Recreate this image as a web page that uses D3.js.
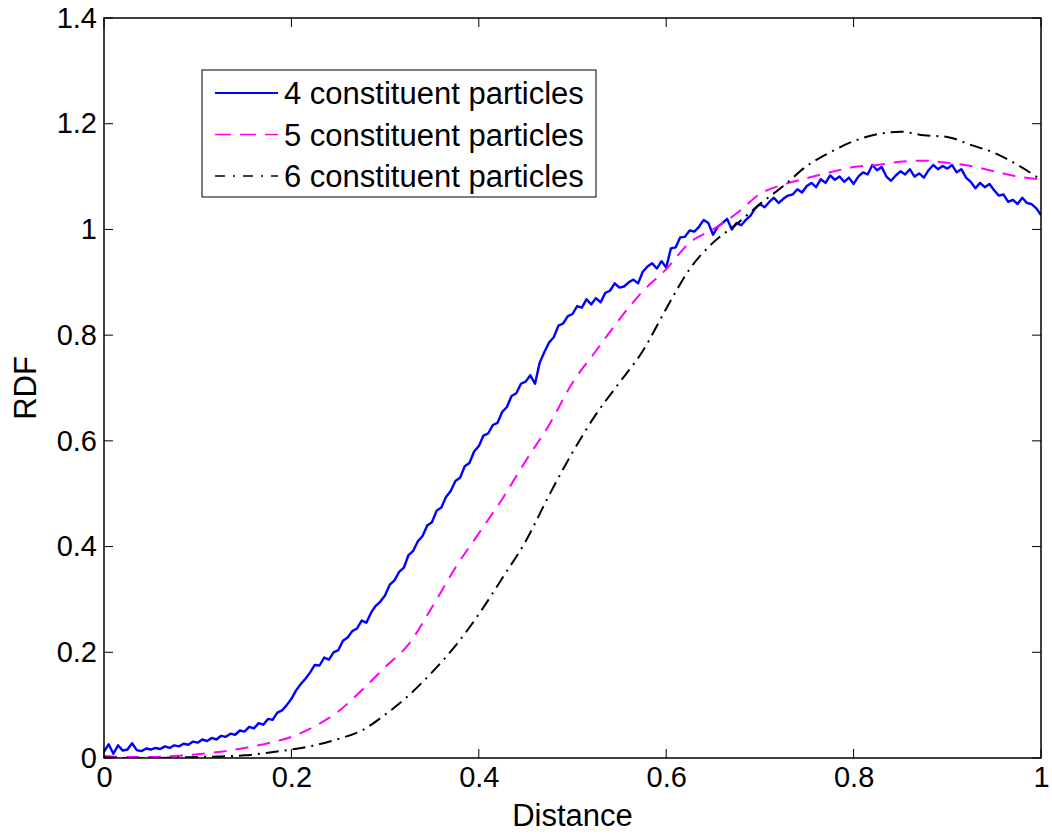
<!DOCTYPE html>
<html><head><meta charset="utf-8">
<script src="https://cdn.jsdelivr.net/npm/d3@7"></script>
<style>body{margin:0;background:#fff}svg{display:block}text{font-family:"Liberation Sans",Arial,sans-serif}</style>
</head><body>
<svg id="c" width="1052" height="837"></svg>
<script>
const seriesNames = ["4 constituent particles","5 constituent particles","6 constituent particles"];
const xTicks = [0,0.2,0.4,0.6,0.8,1];
const yTicks = [0,0.2,0.4,0.6,0.8,1,1.2,1.4];
// 4 particles: step 0.005 from 0 to 1
const rdf4 = [0.012,0.026,0.008,0.024,0.014,0.016,0.028,0.015,0.013,0.018,
0.016,0.019,0.017,0.022,0.019,0.024,0.022,0.027,0.025,0.031,
0.029,0.035,0.032,0.038,0.035,0.042,0.04,0.046,0.044,0.052,
0.05,0.059,0.056,0.066,0.063,0.074,0.072,0.086,0.09,0.1,
0.112,0.128,0.14,0.15,0.162,0.176,0.175,0.19,0.186,0.2,
0.204,0.222,0.228,0.24,0.245,0.26,0.256,0.275,0.288,0.296,
0.308,0.328,0.336,0.352,0.36,0.384,0.392,0.41,0.42,0.44,
0.446,0.468,0.474,0.494,0.505,0.524,0.53,0.552,0.558,0.58,
0.59,0.61,0.614,0.63,0.634,0.655,0.664,0.685,0.69,0.708,
0.712,0.724,0.708,0.748,0.768,0.786,0.796,0.818,0.822,0.836,
0.84,0.855,0.852,0.868,0.858,0.87,0.862,0.88,0.884,0.898,
0.89,0.892,0.9,0.905,0.898,0.92,0.93,0.936,0.926,0.94,
0.928,0.964,0.966,0.985,0.986,0.998,0.996,1.005,1.018,1.012,
0.99,1.005,1.012,1.02,1.0,1.012,1.008,1.018,1.026,1.04,
1.048,1.042,1.052,1.06,1.05,1.058,1.064,1.066,1.076,1.07,
1.082,1.088,1.08,1.095,1.088,1.102,1.094,1.1,1.09,1.098,
1.086,1.1,1.108,1.104,1.122,1.112,1.118,1.1,1.092,1.102,
1.11,1.104,1.114,1.1,1.106,1.098,1.112,1.122,1.114,1.12,
1.115,1.122,1.108,1.114,1.098,1.09,1.078,1.088,1.08,1.086,
1.074,1.064,1.066,1.052,1.056,1.048,1.06,1.05,1.048,1.04,
1.027];
// 5 and 6 particles: step 0.025 from 0 to 1
const rdf5 = [0.004,0.002,0.002,0.004,0.007,0.012,0.019,0.028,0.04,0.06,
0.088,0.128,0.172,0.215,0.285,0.36,0.425,0.49,0.562,0.63,
0.71,0.77,0.83,0.883,0.925,0.975,1.0,1.03,1.067,1.085,
1.097,1.108,1.118,1.122,1.128,1.13,1.126,1.12,1.11,1.1,1.095];
const rdf6 = [0.001,0.0,0.0,0.001,0.002,0.003,0.005,0.01,0.016,0.024,
0.036,0.052,0.082,0.118,0.162,0.212,0.272,0.34,0.41,0.497,
0.578,0.65,0.71,0.77,0.85,0.925,0.975,1.01,1.048,1.082,
1.12,1.146,1.167,1.18,1.185,1.178,1.175,1.16,1.145,1.122,1.094];

const L=104, R=1041, T=18, B=758;
const svg = d3.select("#c");
const x = d3.scaleLinear().domain([0,1]).range([L,R]);
const y = d3.scaleLinear().domain([0,1.4]).range([B,T]);

svg.append("defs").append("clipPath").attr("id","clip")
  .append("rect").attr("x",L).attr("y",T).attr("width",R-L).attr("height",B-T);

const mk = (arr, step) => arr.map((v,i)=>[i*step, v]);
const series = [
  {data: mk(rdf4,0.005), color:"#0000ff", dash:null, w:2.4},
  {data: mk(rdf5,0.025), color:"#ff00ff", dash:"13,9", w:2},
  {data: mk(rdf6,0.025), color:"#000000", dash:"13,6,2,6", w:2}
];
const g = svg.append("g").attr("clip-path","url(#clip)");
series.forEach(s=>{
  g.append("path").attr("d", d3.line().x(d=>x(d[0])).y(d=>y(d[1])).curve(s.dash?d3.curveMonotoneX:d3.curveLinear)(s.data))
    .attr("fill","none").attr("stroke",s.color).attr("stroke-width",s.w)
    .attr("stroke-dasharray",s.dash).attr("stroke-linejoin","round");
});

// axes
const fsT = 29, fs = 31;
const xb = svg.append("g").attr("transform",`translate(0,${B})`)
  .call(d3.axisBottom(x).tickValues(xTicks).tickFormat(d3.format("~g")).tickSize(0).tickPadding(8));
const yl = svg.append("g").attr("transform",`translate(${L},0)`)
  .call(d3.axisLeft(y).tickValues(yTicks).tickFormat(d3.format("~g")).tickSize(0).tickPadding(7));
[xb,yl].forEach(a=>{a.select(".domain").remove(); a.selectAll("text").attr("font-size",fsT).attr("fill","#000").style("font-family","Liberation Sans, Arial, sans-serif");});
// inner ticks on all four sides
const tk = 9;
xTicks.forEach(t=>{
  svg.append("line").attr("x1",x(t)).attr("x2",x(t)).attr("y1",B).attr("y2",B-tk).attr("stroke","#000").attr("stroke-width",1);
  svg.append("line").attr("x1",x(t)).attr("x2",x(t)).attr("y1",T).attr("y2",T+tk).attr("stroke","#000").attr("stroke-width",1);
});
yTicks.forEach(t=>{
  svg.append("line").attr("x1",L).attr("x2",L+tk).attr("y1",y(t)).attr("y2",y(t)).attr("stroke","#000").attr("stroke-width",1);
  svg.append("line").attr("x1",R).attr("x2",R-tk).attr("y1",y(t)).attr("y2",y(t)).attr("stroke","#000").attr("stroke-width",1);
});
svg.append("rect").attr("x",L).attr("y",T).attr("width",R-L).attr("height",B-T)
  .attr("fill","none").attr("stroke","#000").attr("stroke-width",1.5);

svg.append("text").attr("x",(L+R)/2).attr("y",826).attr("text-anchor","middle").attr("font-size",fs).text("Distance");
svg.append("text").attr("transform",`translate(36,${(T+B)/2}) rotate(-90)`).attr("text-anchor","middle").attr("font-size",fs).text("RDF");

// legend
const lg = svg.append("g");
lg.append("rect").attr("x",202).attr("y",70).attr("width",394).attr("height",127).attr("fill","#fff").attr("stroke","#000").attr("stroke-width",1);
series.forEach((s,i)=>{
  const yy = 93 + i*41.5;
  lg.append("line").attr("x1",215).attr("x2",278).attr("y1",yy).attr("y2",yy)
    .attr("stroke",s.color).attr("stroke-width",s.w>2?2:1.5).attr("stroke-dasharray",s.dash ? (i==1?"16,9":"10,8,2,8") : null);
  lg.append("text").attr("x",284).attr("y",yy+11).attr("font-size",fs).text(seriesNames[i]);
});
</script>
</body></html>
